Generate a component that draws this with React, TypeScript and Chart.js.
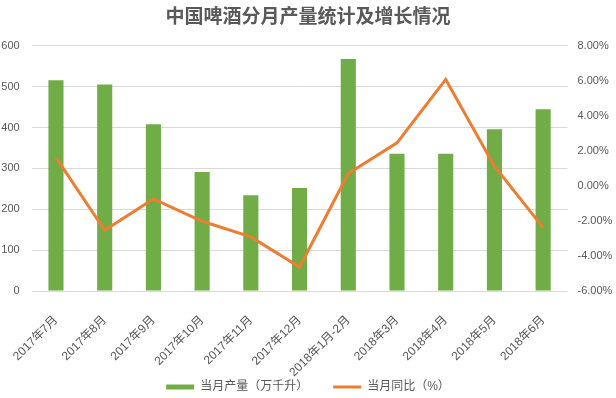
import React, { useEffect, useRef } from "react";
import { Chart, registerables } from "chart.js";

Chart.register(...registerables);

const categories = [
  "2017年7月", "2017年8月", "2017年9月", "2017年10月", "2017年11月", "2017年12月",
  "2018年1月-2月", "2018年3月", "2018年4月", "2018年5月", "2018年6月",
];
const production = [516, 505, 408, 291, 234, 252, 568, 336, 336, 396, 445];
const yoyPercent = [1.62, -2.53, -0.74, -2.02, -2.91, -4.63, 0.71, 2.46, 6.08, 1.13, -2.38];
const seriesNames = ["当月产量（万千升）", "当月同比（%）"];
const titleText = "中国啤酒分月产量统计及增长情况";

const GREEN = "#70ad47";
const ORANGE = "#ed7d31";
const TEXT = "#595959";
const FONT = "'Liberation Sans', 'Noto Sans CJK SC', sans-serif";

export default function App() {
  const ref = useRef<HTMLCanvasElement | null>(null);

  useEffect(() => {
    document.body.style.margin = "0";
    const canvas = ref.current;
    if (!canvas) return;
    const chart = new Chart(canvas, {
      data: {
        labels: categories,
        datasets: [
          {
            type: "line",
            label: seriesNames[1],
            data: yoyPercent,
            yAxisID: "y1",
            borderColor: ORANGE,
            backgroundColor: ORANGE,
            borderWidth: 3,
            pointRadius: 0,
            tension: 0,
            order: 0,
          },
          {
            type: "bar",
            label: seriesNames[0],
            data: production,
            yAxisID: "y",
            backgroundColor: GREEN,
            borderWidth: 0,
            categoryPercentage: 1,
            barPercentage: 0.31,
            order: 1,
          },
        ],
      },
      options: {
        animation: false,
        responsive: true,
        maintainAspectRatio: false,
        layout: { padding: { left: 0, right: 0, top: 0, bottom: -5 } },
        plugins: {
          tooltip: { enabled: false },
          title: {
            display: true,
            text: titleText,
            color: TEXT,
            font: { family: "'Noto Sans CJK SC', sans-serif", size: 19, weight: "bold" },
            padding: { top: 4, bottom: 19 },
          },
          legend: {
            position: "bottom",
            labels: {
              usePointStyle: true,
              pointStyleWidth: 28,
              boxHeight: 5,
              padding: 25,
              color: TEXT,
              font: { family: FONT, size: 12 },
              generateLabels: () => [
                {
                  text: seriesNames[0],
                  fillStyle: GREEN,
                  strokeStyle: GREEN,
                  lineWidth: 0,
                  pointStyle: "rect",
                  fontColor: TEXT,
                  hidden: false,
                  datasetIndex: 1,
                },
                {
                  text: seriesNames[1],
                  fillStyle: ORANGE,
                  strokeStyle: ORANGE,
                  lineWidth: 3,
                  pointStyle: "line",
                  fontColor: TEXT,
                  hidden: false,
                  datasetIndex: 0,
                },
              ],
            },
          },
        },
        scales: {
          x: {
            grid: { display: false },
            border: { display: false },
            ticks: {
              color: TEXT,
              font: { family: FONT, size: 12 },
              minRotation: 45,
              maxRotation: 45,
              autoSkip: false,
              padding: 14,
            },
            afterFit: (scale: any) => {
              scale.height = 65;
              scale._computeLabelArea = () => undefined;
            },
          },
          y: {
            position: "left",
            min: 0,
            max: 600,
            ticks: {
              stepSize: 100,
              color: TEXT,
              font: { family: FONT, size: 11 },
              padding: 12,
            },
            grid: { color: "#d9d9d9", lineWidth: 1, drawTicks: false },
            border: { display: false },
            afterFit: (scale: any) => {
              scale.width = 31;
            },
          },
          y1: {
            position: "right",
            min: -6,
            max: 8,
            ticks: {
              stepSize: 2,
              color: TEXT,
              font: { family: FONT, size: 11 },
              padding: 10,
              callback: (v: any) => Number(v).toFixed(2) + "%",
            },
            grid: { drawOnChartArea: false, drawTicks: false },
            border: { display: false },
            afterFit: (scale: any) => {
              scale.width = 48.5;
            },
          },
        },
      },
    });
    return () => chart.destroy();
  }, []);

  return (
    <div style={{ position: "absolute", left: 0, top: 0, width: 616, height: 398 }}>
      <canvas ref={ref} />
    </div>
  );
}
